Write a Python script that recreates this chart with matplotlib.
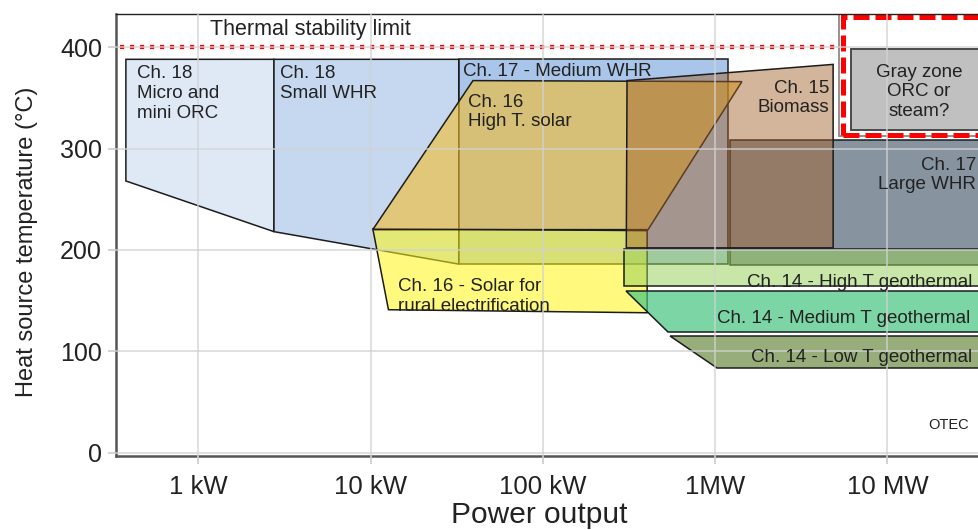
import matplotlib.pyplot as plt
from matplotlib.colors import to_rgba
from matplotlib.patches import Polygon

plt.rcParams['font.family'] = ['Liberation Sans', 'DejaVu Sans']

# power output in kW, heat source temperature in degC
FAR_RIGHT = 60000  # shapes that continue past the right edge

micro_kw = [0.38, 2.75, 2.75, 0.38]
micro_t = [388, 388, 218, 268]
small_kw = [2.75, 32.5, 32.5, 2.75]
small_t = [388, 388, 186, 218]
medium_kw = [32.5, 1180, 1180, 32.5]
medium_t = [388, 388, 186, 186]
large_kw = [1220, FAR_RIGHT, FAR_RIGHT, 1220]
large_t = [308, 308, 185, 185]
rural_kw = [10.3, 403, 403, 12.7]
rural_t = [221, 219, 138, 141]
hsolar_kw = [10.3, 408, 1430, 39.3]
hsolar_t = [220, 220, 366, 367]
biomass_kw = [308, 4840, 4840, 305]
biomass_t = [367, 383, 202, 202]
hgeo_kw = [294, FAR_RIGHT, FAR_RIGHT, 294]
hgeo_t = [201, 201, 164, 164]
mgeo_kw = [304, FAR_RIGHT, FAR_RIGHT, 533]
mgeo_t = [159, 159, 119, 119]
lgeo_kw = [548, FAR_RIGHT, FAR_RIGHT, 1020]
lgeo_t = [115, 115, 84, 84]

gray_frame_kw = [5244, FAR_RIGHT]
gray_frame_t = [312, 440]
red_frame_kw = [5530, FAR_RIGHT]
red_frame_t = [313, 430]
gray_box_kw = [6150, FAR_RIGHT]
gray_box_t = [318, 398]

stability_t = 400
stability_kw = [0.35, 5100]

xticks = [1, 10, 100, 1000, 10000]
xtick_labels = ['1 kW', '10 kW', '100 kW', '1MW', '10 MW']
yticks = [0, 100, 200, 300, 400]

fig = plt.figure(figsize=(9.79, 5.30), dpi=100)
ax = fig.add_axes([116 / 979, 1 - 455.7 / 530, (979 - 116) / 979, (455.7 - 14) / 530])
ax.set_xscale('log')
ax.set_xlim(0.333, 34000)
ax.set_ylim(-3, 432.7)


def zone(xs, ys, color, alpha=1.0, z=1):
    p = Polygon(list(zip(xs, ys)), closed=True, facecolor=to_rgba(color, alpha),
                edgecolor='#1c1c1c', linewidth=1.1, zorder=z)
    ax.add_patch(p)


def box(xs, ys, **kw):
    corners = [(xs[0], ys[0]), (xs[1], ys[0]), (xs[1], ys[1]), (xs[0], ys[1])]
    ax.add_patch(Polygon(corners, closed=True, **kw))


zone(micro_kw, micro_t, '#dfe9f6')
zone(small_kw, small_t, '#c5d8ef')
zone(medium_kw, medium_t, '#a9c5e9')
zone(large_kw, large_t, '#8893a0')
zone(rural_kw, rural_t, '#fff613', 0.55)
zone(hsolar_kw, hsolar_t, '#f5bd2c', 0.6)
zone(biomass_kw, biomass_t, '#a06228', 0.47)
zone(hgeo_kw, hgeo_t, '#95cf58', 0.52)
zone(mgeo_kw, mgeo_t, '#45c47e', 0.7)
zone(lgeo_kw, lgeo_t, '#97ad7a')

# thermal stability limit
ax.plot(stability_kw, [stability_t] * 2, color='#ff0000', lw=3.0,
        linestyle=(0, (1.0, 1.4)), zorder=1.5)

# gray zone: framed box at high power
box(gray_frame_kw, gray_frame_t, facecolor='white', edgecolor='#8a8a8a', lw=1.3, zorder=1.6)
box(red_frame_kw, red_frame_t, facecolor='none', edgecolor='#ff0000', lw=3.6,
    linestyle=(0, (3.2, 1.2)), zorder=1.7)
box(gray_box_kw, gray_box_t, facecolor='#c0c0c0', edgecolor='#4a4a4a', lw=1.4, zorder=1.8)

txt = dict(fontsize=13.5, color='#222222', linespacing=1.2, zorder=4)
ax.text(1.17, 417, 'Thermal stability limit', va='center', ha='left', **{**txt, 'fontsize': 15.5})
ax.text(0.44, 382, 'Ch. 18\nMicro and\nmini ORC', va='top', ha='left', **txt)
ax.text(2.98, 382, 'Ch. 18\nSmall WHR', va='top', ha='left', **txt)
ax.text(34.3, 376, 'Ch. 17 - Medium WHR', va='center', ha='left', **txt)
ax.text(36.9, 354, 'Ch. 16\nHigh T. solar', va='top', ha='left', **txt)
ax.text(4586, 368, 'Ch. 15\nBiomass', va='top', ha='right', multialignment='right', **txt)
ax.text(15280, 356, 'Gray zone\nORC or\nsteam?', va='center', ha='center',
        multialignment='center', **txt)
ax.text(32700, 274, 'Ch. 17\nLarge WHR', va='center', ha='right', multialignment='right', **txt)
ax.text(14.5, 154, 'Ch. 16 - Solar for\nrural electrification', va='center', ha='left', **txt)
ax.text(1527, 168, 'Ch. 14 - High T geothermal', va='center', ha='left', **txt)
ax.text(1031, 132.5, 'Ch. 14 - Medium T geothermal', va='center', ha='left', **txt)
ax.text(1611, 94, 'Ch. 14 - Low T geothermal', va='center', ha='left', **txt)
ax.text(17230, 27, 'OTEC', va='center', ha='left', **{**txt, 'fontsize': 10.5})

ax.set_xticks(xticks)
ax.set_xticklabels(xtick_labels)
ax.set_yticks(yticks)
ax.minorticks_off()
ax.tick_params(axis='both', colors='#cccccc', labelcolor='#222222', length=6, width=1.2)
ax.tick_params(axis='x', pad=8, labelsize=18.5)
ax.tick_params(axis='y', pad=4, labelsize=18)

ax.set_axisbelow(False)
ax.grid(True, color='#d2d2d2', lw=1.3, alpha=0.75)

ax.spines['right'].set_visible(False)
ax.spines['top'].set_color('#222222')
ax.spines['top'].set_linewidth(1.0)
for s in ('left', 'bottom'):
    ax.spines[s].set_color('#555555')
    ax.spines[s].set_linewidth(1.8)

fig.text(539 / 979, 1 - 515 / 530, 'Power output', ha='center', va='center',
         fontsize=21.5, color='#222222')
fig.text(27 / 979, 1 - 241.5 / 530, 'Heat source temperature (°C)', ha='center',
         va='center', rotation=90, fontsize=17, color='#222222')

fig.savefig('out.png', dpi=100)
